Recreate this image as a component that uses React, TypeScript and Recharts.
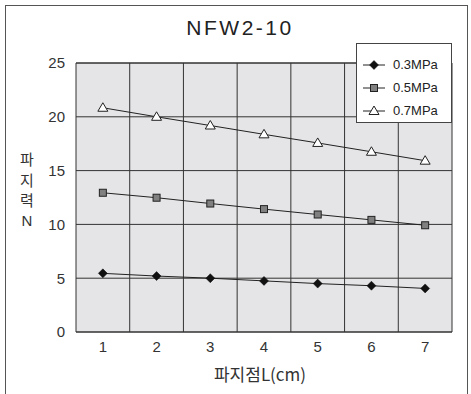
import React from "react";
import {
  ComposedChart,
  Line,
  XAxis,
  YAxis,
  CartesianGrid,
  ReferenceLine,
} from "recharts";

const positions = [1, 2, 3, 4, 5, 6, 7];
const mpa03 = [5.45, 5.2, 5.0, 4.75, 4.5, 4.3, 4.05];
const mpa05 = [12.94, 12.48, 11.94, 11.42, 10.92, 10.42, 9.92];
const mpa07 = [20.84, 20.0, 19.19, 18.37, 17.57, 16.75, 15.92];
const yTicks = [0, 5, 10, 15, 20, 25];
const boundaries = [1.5, 2.5, 3.5, 4.5, 5.5, 6.5, 7.5];
const seriesNames = ["0.3MPa", "0.5MPa", "0.7MPa"];

const data = positions.map((x, i) => ({
  x,
  a: mpa03[i],
  b: mpa05[i],
  c: mpa07[i],
}));

const FONT = '"Liberation Sans", Arial, sans-serif';
const KFONT = '"Noto Sans CJK KR", "Liberation Sans", sans-serif';

const Diamond = (props: any) => {
  const { cx, cy } = props;
  if (cx == null || cy == null) return null;
  const r = 4.5;
  return (
    <path
      d={`M${cx},${cy - r}L${cx + r},${cy}L${cx},${cy + r}L${cx - r},${cy}Z`}
      fill="#111"
      stroke="#111"
      strokeWidth={0.5}
    />
  );
};

const Square = (props: any) => {
  const { cx, cy } = props;
  if (cx == null || cy == null) return null;
  const s = 3.5;
  return (
    <rect
      x={cx - s}
      y={cy - s}
      width={2 * s}
      height={2 * s}
      fill="#808080"
      stroke="#222"
      strokeWidth={1}
    />
  );
};

const Triangle = (props: any) => {
  const { cx, cy } = props;
  if (cx == null || cy == null) return null;
  const r = 5;
  return (
    <path
      d={`M${cx},${cy - r}L${cx + r},${cy + r * 0.7}L${cx - r},${cy + r * 0.7}Z`}
      fill="#fff"
      stroke="#222"
      strokeWidth={1}
    />
  );
};

const LegendIcon = ({ kind }: { kind: number }) => (
  <svg width={24} height={12} style={{ display: "block" }}>
    <line x1={1} y1={6} x2={23} y2={6} stroke="#222" strokeWidth={1} />
    {kind === 0 && <Diamond cx={12} cy={6} />}
    {kind === 1 && <Square cx={12} cy={6} />}
    {kind === 2 && <Triangle cx={12} cy={6} />}
  </svg>
);

export default function App() {
  return (
    <div
      style={{
        position: "absolute",
        left: 0,
        top: 0,
        width: 471,
        height: 394,
        overflow: "hidden",
        background: "#fff",
      }}
    >
      <div
        style={{
          position: "absolute",
          left: 5,
          top: 5,
          width: 463,
          height: 420,
          border: "1px solid #555",
          boxSizing: "border-box",
        }}
      />
      <div
        style={{
          position: "absolute",
          left: 0,
          top: 0,
        }}
      >
        <ComposedChart
          width={471}
          height={394}
          data={data}
          margin={{ top: 63, right: 19, left: 0, bottom: 30 }}
        >
          <CartesianGrid
            vertical={false}
            stroke="#333"
            strokeWidth={1}
            fill="#e5e5e7"
            fillOpacity={1}
          />
          <XAxis
            type="number"
            dataKey="x"
            domain={[0.5, 7.5]}
            ticks={positions}
            tickLine={false}
            tickSize={0}
            tickMargin={9}
            height={32}
            axisLine={{ stroke: "#333" }}
            tick={{ fill: "#333", fontSize: 15, fontFamily: FONT }}
            interval={0}
          />
          <YAxis
            domain={[0, 25]}
            ticks={yTicks}
            width={76}
            tickLine={false}
            tickSize={0}
            tickMargin={11}
            axisLine={{ stroke: "#333" }}
            tick={{ fill: "#333", fontSize: 15, fontFamily: FONT }}
            interval={0}
          />
          {boundaries.map((b) => (
            <ReferenceLine key={b} x={b} stroke="#333" strokeWidth={1} />
          ))}
          <ReferenceLine y={25} stroke="#333" strokeWidth={1} />
          <Line
            dataKey="a"
            stroke="#222"
            strokeWidth={1}
            dot={<Diamond />}
            isAnimationActive={false}
          />
          <Line
            dataKey="b"
            stroke="#222"
            strokeWidth={1}
            dot={<Square />}
            isAnimationActive={false}
          />
          <Line
            dataKey="c"
            stroke="#222"
            strokeWidth={1}
            dot={<Triangle />}
            isAnimationActive={false}
          />
        </ComposedChart>
      </div>
      <div
        style={{
          position: "absolute",
          left: 0,
          width: 480,
          top: 16,
          textAlign: "center",
          fontFamily: FONT,
          fontSize: 21,
          letterSpacing: 2.5,
          color: "#222",
        }}
      >
        NFW2-10
      </div>
      <div
        style={{
          position: "absolute",
          left: 17,
          top: 149,
          width: 20,
          textAlign: "center",
          fontFamily: KFONT,
          fontSize: 15,
          lineHeight: "20.5px",
          color: "#333",
        }}
      >
        <div>파</div>
        <div>지</div>
        <div>력</div>
        <div style={{ fontFamily: FONT, fontSize: 15 }}>N</div>
      </div>
      <div
        style={{
          position: "absolute",
          left: 60,
          width: 400,
          top: 361,
          textAlign: "center",
          fontFamily: KFONT,
          fontSize: 17,
          color: "#333",
        }}
      >
        파지점L(cm)
      </div>
      <div
        style={{
          position: "absolute",
          left: 356,
          top: 43,
          width: 96,
          height: 80,
          background: "#fff",
          border: "1px solid #444",
          boxSizing: "border-box",
          paddingTop: 9,
        }}
      >
        {seriesNames.map((n, i) => (
          <div
            key={n}
            style={{
              display: "flex",
              alignItems: "center",
              height: 23,
              paddingLeft: 5,
            }}
          >
            <LegendIcon kind={i} />
            <span
              style={{
                marginLeft: 7,
                fontFamily: FONT,
                fontSize: 13,
                color: "#222",
              }}
            >
              {n}
            </span>
          </div>
        ))}
      </div>
    </div>
  );
}
